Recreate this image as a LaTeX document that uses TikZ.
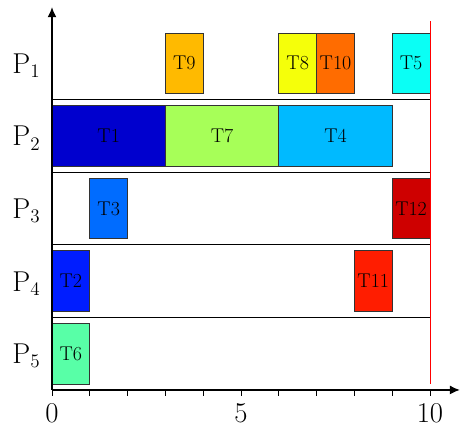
\documentclass[tikz,border=0pt]{standalone}
\usetikzlibrary{arrows.meta}
\definecolor{c1}{RGB}{0,0,206}
\definecolor{c2}{RGB}{0,29,255}
\definecolor{c3}{RGB}{0,108,255}
\definecolor{c4}{RGB}{0,186,255}
\definecolor{c5}{RGB}{10,255,245}
\definecolor{c6}{RGB}{88,255,167}
\definecolor{c7}{RGB}{167,255,88}
\definecolor{c8}{RGB}{245,255,10}
\definecolor{c9}{RGB}{255,186,0}
\definecolor{c10}{RGB}{255,108,0}
\definecolor{c11}{RGB}{255,29,0}
\definecolor{c12}{RGB}{206,0,0}
\tikzset{
  task/.style={draw=black!80, line width=0.6pt, minimum height=1.6cm, inner sep=0pt,
    font=\fontsize{15}{18}\selectfont},
  procl/.style={anchor=base east, inner sep=0pt, font=\fontsize{21.6}{26}\selectfont},
  tickl/.style={anchor=base, inner sep=0pt, font=\fontsize{21.6}{26}\selectfont},
  sep/.style={black, line width=0.6pt},
  axis/.style={black, line width=1pt},
}
\begin{document}
\begin{tikzpicture}[x=1cm,y=1.6cm]
\useasboundingbox (-1.3757cm,-0.979cm) rectangle (10.794cm,10.317cm);
% separators
\foreach \s in {1.2,2.4,3.6,4.8} \draw[sep] (0,\s) -- (10,\s);
% P1 row (base 4.8)
\node[task, fill=c9, minimum width=1cm] (T9) at (3.5,5.4) {T9};
\node[task, fill=c8, minimum width=1cm] (T8) at (6.5,5.4) {T8};
\node[task, fill=c10, minimum width=1cm] (T10) at (7.5,5.4) {T10};
\node[task, fill=c5, minimum width=1cm] (T5) at (9.5,5.4) {T5};
% P2 row (base 3.6)
\node[task, fill=c1, minimum width=3cm] (T1) at (1.5,4.2) {T1};
\node[task, fill=c7, minimum width=3cm] (T7) at (4.5,4.2) {T7};
\node[task, fill=c4, minimum width=3cm] (T4) at (7.5,4.2) {T4};
% P3 row (base 2.4)
\node[task, fill=c3, minimum width=1cm] (T3) at (1.5,3.0) {T3};
\node[task, fill=c12, minimum width=1cm] (T12) at (9.5,3.0) {T12};
% P4 row (base 1.2)
\node[task, fill=c2, minimum width=1cm] (T2) at (0.5,1.8) {T2};
\node[task, fill=c11, minimum width=1cm] (T11) at (8.5,1.8) {T11};
% P5 row (base 0)
\node[task, fill=c6, minimum width=1cm] (T6) at (0.5,0.6) {T6};
% processor labels
\node[procl] (P1) at (-0.3,5.235) {P$_1$};
\node[procl] (P2) at (-0.3,4.035) {P$_2$};
\node[procl] (P3) at (-0.3,2.835) {P$_3$};
\node[procl] (P4) at (-0.3,1.635) {P$_4$};
\node[procl] (P5) at (-0.3,0.435) {P$_5$};
% deadline
\draw[red, line width=0.6pt] (10,0.1) -- (10,6.1);
% axes
\draw[axis, -{Latex[length=7.5pt,width=6.75pt]}] (0,0) -- (0,6.33);
\draw[axis, -{Latex[length=7.5pt,width=6.75pt]}] (0,0) -- (10.79,0);
\foreach \i in {0,...,10} \draw[axis, line width=0.6pt] (\i,0) -- (\i,-0.1);
\foreach \i in {0,5,10} \node[tickl] (tk\i) at (\i,-0.535) {\i};
\end{tikzpicture}
\end{document}
